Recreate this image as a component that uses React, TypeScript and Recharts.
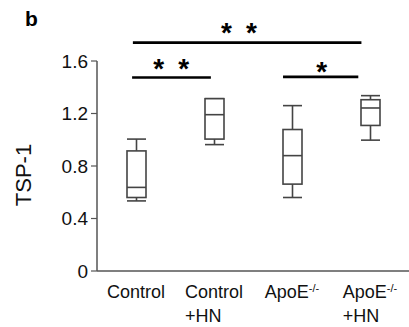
import React from 'react';
import { ComposedChart, Bar, XAxis, YAxis, ReferenceLine } from 'recharts';

// ---- data ----
const categoryKeys = ['Control', 'Control+HN', 'ApoE-/-', 'ApoE-/-+HN'];
const labelMain = ['Control', 'Control', 'ApoE', 'ApoE'];
const labelSup = ['', '', '-/-', '-/-'];
const labelSecond = ['', '+HN', '', '+HN'];

const mins = [0.534, 0.963, 0.56, 0.997];
const q1s = [0.56, 1.005, 0.662, 1.109];
const medians = [0.637, 1.191, 0.879, 1.242];
const q3s = [0.915, 1.313, 1.078, 1.305];
const maxs = [1.005, 1.313, 1.26, 1.336];

const yTicks = [0, 0.4, 0.8, 1.2, 1.6];

// significance brackets, x in category-index units (0 = centre of first category)
const sigStart = [-0.04, -0.05, 1.885];
const sigEnd = [2.89, 0.96, 2.85];
const sigLevel = [1.74, 1.474, 1.479];
const sigStars = [2, 2, 1];
const sigStarX = [1.32, 0.45, 2.38];
const sigStarY = [1.864, 1.589, 1.566];

const data = categoryKeys.map((k, i) => ({
  name: k,
  min: mins[i],
  q1: q1s[i],
  med: medians[i],
  q3: q3s[i],
  max: maxs[i],
}));

const FONT = '"Liberation Sans", Arial, sans-serif';
const BOX = '#444';
const LAST = categoryKeys.length - 1;

let canvas: HTMLCanvasElement | null = null;
const measure = (t: string, size: number) => {
  if (!canvas) canvas = document.createElement('canvas');
  const ctx = canvas.getContext('2d');
  if (!ctx) return t.length * size * 0.55;
  ctx.font = `${size}px "Liberation Sans", Arial, sans-serif`;
  return ctx.measureText(t).width;
};

const BoxShape = (props: any) => {
  const { x, y, width, height, payload } = props;
  if (x == null || y == null) return null;
  const top = Math.min(y, y + height);
  const h = Math.abs(height);
  const { min, max, q1, med, q3 } = payload;
  const py = (v: number) => top + ((max - v) / (max - min)) * h;
  const cx = x + width / 2;
  const sw = 1.6;
  return (
    <g stroke={BOX} strokeWidth={sw} fill="none">
      <line x1={x} x2={x + width} y1={py(max)} y2={py(max)} />
      <line x1={cx} x2={cx} y1={py(max)} y2={py(q3)} />
      <rect x={x} y={py(q3)} width={width} height={py(q1) - py(q3)} fill="#fff" />
      <line x1={x} x2={x + width} y1={py(med)} y2={py(med)} />
      <line x1={cx} x2={cx} y1={py(q1)} y2={py(min)} />
      <line x1={x} x2={x + width} y1={py(min)} y2={py(min)} />
    </g>
  );
};

const XTick = (props: any) => {
  const { x, y, payload } = props;
  const i = categoryKeys.indexOf(payload.value);
  const main = labelMain[i];
  const sup = labelSup[i];
  const second = labelSecond[i];
  const w = measure(main, 18) + (sup ? measure(sup, 11) : 0);
  const sx = x - w / 2;
  return (
    <g>
      <text x={sx} y={y + 27} fontSize={18} fontFamily={FONT} fill="#111">
        <tspan>{main}</tspan>
        {sup ? (
          <tspan fontSize={11} dy={-6}>
            {sup}
          </tspan>
        ) : null}
      </text>
      {second ? (
        <text x={sx} y={y + 50.5} fontSize={18} fontFamily={FONT} fill="#111">
          {second}
        </text>
      ) : null}
    </g>
  );
};

// converts category-index units into pixels using the segment endpoints produced by the axis scale
const toPx = (p: any, u: number) => {
  const x1 = Number(p.x1);
  const x2 = Number(p.x2);
  const band = (x2 - x1) / LAST;
  return x1 + u * band;
};

const makeBracket = (i: number) => (p: any) => {
  const y = Number(p.y1);
  return (
    <line
      x1={toPx(p, sigStart[i])}
      x2={toPx(p, sigEnd[i])}
      y1={y}
      y2={y}
      stroke="#000"
      strokeWidth={2.6}
    />
  );
};

const makeStars = (i: number) => (p: any) => {
  const cy = Number(p.y1);
  const cx = toPx(p, sigStarX[i]);
  const n = sigStars[i];
  const gap = 25;
  const size = 28;
  const items = [];
  for (let k = 0; k < n; k++) {
    items.push(
      <text
        key={k}
        x={cx + (k - (n - 1) / 2) * gap}
        y={cy + 0.56 * size}
        textAnchor="middle"
        fontSize={size}
        fontWeight="bold"
        fontFamily={FONT}
        fill="#000"
      >
        *
      </text>
    );
  }
  return <g>{items}</g>;
};

export default function App() {
  return (
    <div style={{ position: 'absolute', left: 0, top: 0, width: 409, height: 327, background: '#fff' }}>
      <ComposedChart
        width={409}
        height={327}
        data={data}
        margin={{ top: 61, right: 0, bottom: 0, left: 0 }}
      >
        <XAxis
          dataKey="name"
          type="category"
          height={56}
          tickLine={false}
          tickSize={0}
          tickMargin={0}
          axisLine={{ stroke: '#555', strokeWidth: 1.5 }}
          tick={<XTick />}
          interval={0}
        />
        <YAxis
          type="number"
          domain={[0, 1.6]}
          ticks={yTicks}
          width={97}
          tickSize={6}
          tickMargin={3}
          axisLine={{ stroke: '#555', strokeWidth: 1.5 }}
          tickLine={{ stroke: '#555', strokeWidth: 1.2 }}
          tick={{ fontSize: 19, fontFamily: FONT, fill: '#111' }}
          tickFormatter={(v: number) => (v === 0 ? '0' : v.toFixed(1))}
          interval={0}
        />
        <Bar
          dataKey={(d: any) => [d.min, d.max]}
          barSize={19}
          shape={<BoxShape />}
          isAnimationActive={false}
        />
        {sigLevel.map((lv, i) => (
          <ReferenceLine
            key={'l' + i}
            ifOverflow="visible"
            segment={[
              { x: categoryKeys[0], y: lv },
              { x: categoryKeys[LAST], y: lv },
            ]}
            shape={makeBracket(i)}
          />
        ))}
        {sigStarY.map((sy, i) => (
          <ReferenceLine
            key={'s' + i}
            ifOverflow="visible"
            segment={[
              { x: categoryKeys[0], y: sy },
              { x: categoryKeys[LAST], y: sy },
            ]}
            shape={makeStars(i)}
          />
        ))}
      </ComposedChart>
      <svg
        width={409}
        height={327}
        style={{ position: 'absolute', left: 0, top: 0, pointerEvents: 'none' }}
      >
        <text x={25} y={26} fontSize={21} fontWeight="bold" fontFamily={FONT} fill="#000">
          b
        </text>
        <text
          x={23}
          y={175}
          dy="0.36em"
          transform="rotate(-90, 23, 175)"
          textAnchor="middle"
          fontSize={22}
          fontFamily={FONT}
          fill="#111"
        >
          TSP-1
        </text>
      </svg>
    </div>
  );
}
